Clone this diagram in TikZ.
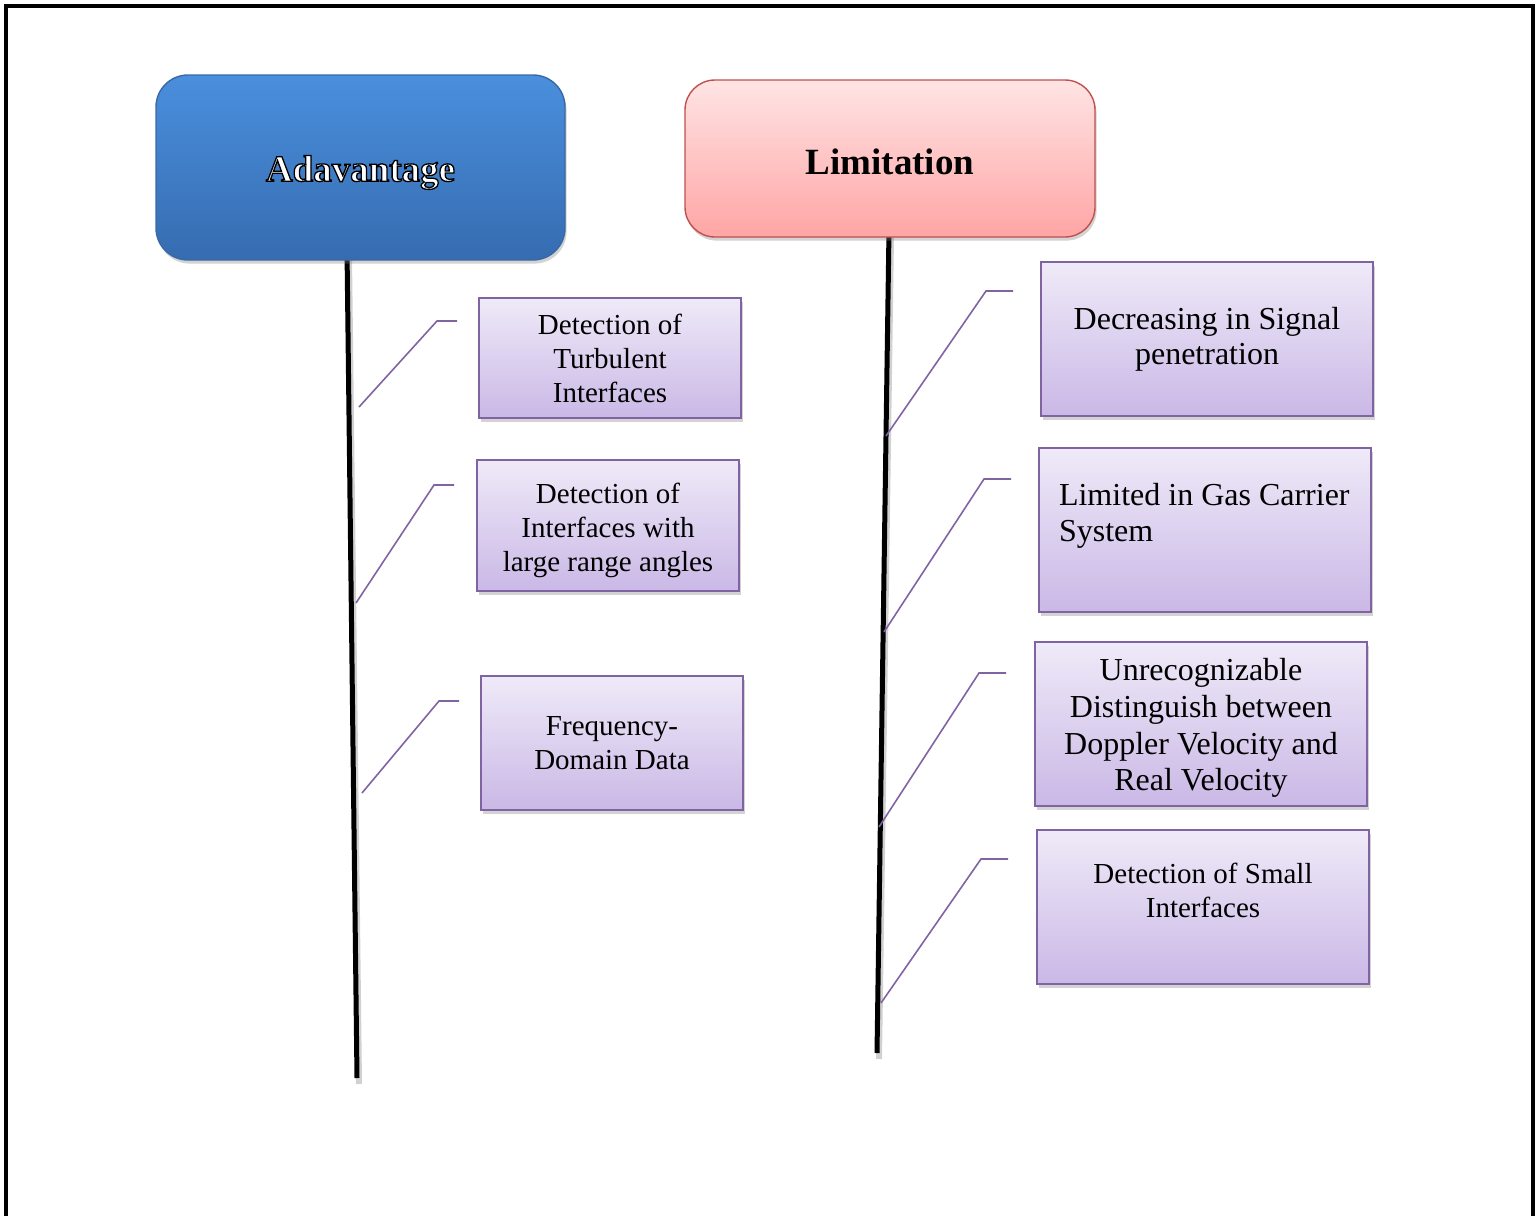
\documentclass[tikz,border=0pt]{standalone}
\usepackage{fontspec}
\setmainfont{Liberation Serif}
\usetikzlibrary{shadows,calc}

\definecolor{advtop}{HTML}{4A8FDD}
\definecolor{advbot}{HTML}{366CB0}
\definecolor{advedge}{HTML}{3A68A6}
\definecolor{limtop}{HTML}{FFE4E4}
\definecolor{limbot}{HTML}{FFA5A5}
\definecolor{limedge}{HTML}{C0504D}
\definecolor{itemtop}{HTML}{EFEAF8}
\definecolor{itembot}{HTML}{CAB8E6}
\definecolor{itemedge}{HTML}{8064A2}
\definecolor{leadline}{HTML}{8064A2}

% white letters with a black stroked outline (PDF text render mode 2)
\newcommand\hollowword[1]{%
  \special{pdf:code q 2 Tr 0.65 w 0 0 0 RG 1 1 1 rg}#1\special{pdf:code Q}}

\tikzset{
  boxshadow/.style={drop shadow={opacity=0.35, shadow xshift=0.8pt, shadow yshift=-1.8pt}},
  headbox/.style={boxshadow, line width=0.7pt, minimum width=#1},
  itembox/.style={boxshadow, draw=itemedge, line width=0.9pt, top color=itemtop, bottom color=itembot,
    text=black, font=\fontsize{14.5pt}{17pt}\selectfont, align=center, inner sep=0pt},
  bigtext/.style={font=\fontsize{16pt}{#1}\selectfont},
  spine/.style={line width=2.5pt, black},
  spineshade/.style={line width=3pt, black!18},
  callout/.style={draw=leadline, line width=0.8pt},
  headtext/.style={font=\fontsize{18.5pt}{21pt}\selectfont\bfseries, inner sep=0pt},
}

\begin{document}
\begin{tikzpicture}[x=0.5pt,y=-0.5pt]
\useasboundingbox (0,0) rectangle (1536,1215);

% page frame (open at the bottom)
\draw[line width=1.6pt] (6,1216) -- (6,6) -- (1533,6) -- (1533,1216);

% spines
\coordinate (aTop) at (347,250);
\coordinate (aBot) at (357,1078);
\coordinate (lTop) at (889,230);
\coordinate (lBot) at (877,1053);
\draw[spineshade] ($(aTop)+(2,6)$) -- ($(aBot)+(2,6)$);
\draw[spineshade] ($(lTop)+(2,6)$) -- ($(lBot)+(2,6)$);
\draw[spine] (aTop) -- (aBot);
\draw[spine] (lTop) -- (lBot);

% heading boxes
\node[headbox=204.5pt, minimum height=92.5pt, rounded corners=16pt, draw=advedge,
      top color=advtop, bottom color=advbot] (adv) at (360.5,167.5) {};
\node[headbox=205pt, minimum height=78.5pt, rounded corners=15pt, draw=limedge,
      top color=limtop, bottom color=limbot] (lim) at (890,158.5) {};

% heading texts
\node[headtext, text=white] (advt) at ($(adv.center)+(0,5)$) {\hollowword{Adavantage}};
\node[headtext, text=black] (limt) at ($(lim.center)+(0,3)$) {Limitation};

% advantage items
\node[itembox, minimum width=131pt, minimum height=60pt] (a1) at (610,358)
  {Detection of\\Turbulent\\Interfaces};
\node[itembox, minimum width=131pt, minimum height=65.5pt] (a2) at (608,525.5)
  {\\[-1.5pt]Detection of\\Interfaces with\\large range angles};
\node[itembox, minimum width=131pt, minimum height=67pt] (a3) at (612,743)
  {Frequency-\\Domain Data};

% limitation items
\node[itembox, bigtext=17.5pt, minimum width=166pt, minimum height=77pt] (l1) at (1207,339)
  {Decreasing in Signal\\penetration};
\node[itembox, bigtext=18pt, minimum width=166pt, minimum height=82pt, text width=146pt, align=flush left] (l2) at (1205,530)
  {Limited in Gas Carrier\\System\\\mbox{}};
\node[itembox, bigtext=18.3pt, minimum width=166pt, minimum height=82pt] (l3) at (1201,724)
  {\\[-3pt]Unrecognizable\\Distinguish between\\Doppler Velocity and\\Real Velocity};
\node[itembox, minimum width=166pt, minimum height=77pt] (l4) at (1203,907)
  {Detection of Small\\Interfaces\\\mbox{}};

% leader lines
\coordinate (a1s) at (359,407); \coordinate (a1k) at (437,321); \coordinate (a1e) at (457,321);
\coordinate (a2s) at (356,603); \coordinate (a2k) at (434,485); \coordinate (a2e) at (454,485);
\coordinate (a3s) at (362,793); \coordinate (a3k) at (439,701); \coordinate (a3e) at (459,701);
\coordinate (l1s) at (886,436); \coordinate (l1k) at (986,291); \coordinate (l1e) at (1013,291);
\coordinate (l2s) at (884,632); \coordinate (l2k) at (984,479); \coordinate (l2e) at (1011,479);
\coordinate (l3s) at (879,827); \coordinate (l3k) at (979,673); \coordinate (l3e) at (1006,673);
\coordinate (l4s) at (881,1003); \coordinate (l4k) at (981,859); \coordinate (l4e) at (1008,859);
\foreach \c in {a1,a2,a3,l1,l2,l3,l4}
  \draw[callout] (\c s) -- (\c k) -- (\c e);
\end{tikzpicture}
\end{document}
